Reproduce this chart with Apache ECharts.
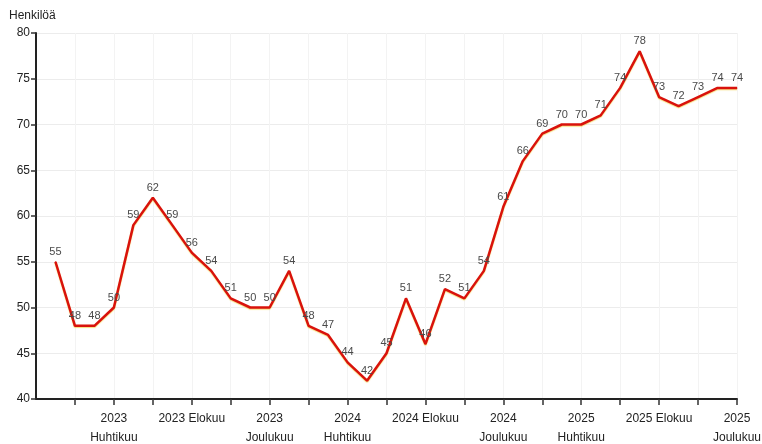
<!DOCTYPE html>
<html>
<head>
<meta charset="utf-8">
<script src="https://cdn.jsdelivr.net/npm/echarts@6/dist/echarts.min.js"></script>
<style>
  html, body { margin: 0; padding: 0; background: #fff; }
  #chart { width: 762px; height: 444px; }
</style>
</head>
<body>
<div id="chart"></div>
<script>
// kuukaudet 2023 tammikuu - 2025 joulukuu
const monthNames = ['Tammikuu', 'Helmikuu', 'Maaliskuu', 'Huhtikuu', 'Toukokuu', 'Kesäkuu',
  'Heinäkuu', 'Elokuu', 'Syyskuu', 'Lokakuu', 'Marraskuu', 'Joulukuu'];
const years = [2023, 2024, 2025];

// henkilöä per kuukausi
const values = [55, 48, 48, 50, 59, 62, 59, 56, 54, 51, 50, 50,
  54, 48, 47, 44, 42, 45, 51, 46, 52, 51, 54, 61,
  66, 69, 70, 70, 71, 74, 78, 73, 72, 73, 74, 74];

// näytettävät akselin tekstit
const tickLabels = {
  '2023 Huhtikuu': '2023\nHuhtikuu',
  '2023 Elokuu': '2023 Elokuu',
  '2023 Joulukuu': '2023\nJoulukuu',
  '2024 Huhtikuu': '2024\nHuhtikuu',
  '2024 Elokuu': '2024 Elokuu',
  '2024 Joulukuu': '2024\nJoulukuu',
  '2025 Huhtikuu': '2025\nHuhtikuu',
  '2025 Elokuu': '2025 Elokuu',
  '2025 Joulukuu': '2025\nJoulukuu'
};

// tyhjä kategoria alkuun, jotta ensimmäinen piste ei ole akselilla
const categories = [''];
years.forEach(y => monthNames.forEach(m => categories.push(y + ' ' + m)));
const seriesData = [null].concat(values);

const chart = echarts.init(document.getElementById('chart'));

const option = {
  animation: false,
  textStyle: { fontFamily: 'Liberation Sans, Arial, sans-serif' },
  grid: { left: 36, right: 25, top: 33, bottom: 45, outerBoundsMode: 'none', containLabel: false },
  title: {
    text: 'Henkilöä',
    left: 4, top: 5,
    textStyle: { fontSize: 12, fontWeight: 'normal', color: '#222' }
  },
  xAxis: {
    type: 'category',
    boundaryGap: false,
    data: categories,
    axisLine: { lineStyle: { color: '#222', width: 2 } },
    axisTick: {
      interval: (i) => i > 0 && i % 2 === 0,
      length: 6,
      lineStyle: { color: '#333', width: 1.5 }
    },
    axisLabel: {
      interval: (i, v) => tickLabels[v] !== undefined,
      formatter: (v) => tickLabels[v] || '',
      color: '#222',
      fontSize: 12,
      lineHeight: 19,
      margin: 10
    },
    splitLine: {
      show: true,
      interval: (i) => i > 0 && i % 2 === 0,
      lineStyle: { color: '#f3f3f3', width: 1 }
    }
  },
  yAxis: {
    type: 'value',
    min: 40, max: 80, interval: 5,
    axisLine: { show: true, lineStyle: { color: '#222', width: 2 } },
    axisTick: { show: true, length: 5, lineStyle: { color: '#333', width: 1.5 } },
    axisLabel: { color: '#222', fontSize: 12, margin: 6 },
    splitLine: { lineStyle: { color: '#ececec', width: 1 } }
  },
  series: [{
    type: 'line',
    data: seriesData,
    symbol: 'circle',
    symbolSize: 1,
    showSymbol: true,
    itemStyle: { color: '#d9120c' },
    connectNulls: false,
    lineStyle: {
      color: '#d9120c', width: 2.5,
      shadowColor: 'rgba(240, 200, 40, 0.6)', shadowBlur: 1, shadowOffsetY: 1
    },
    label: {
      show: true,
      position: 'top',
      distance: 4,
      color: '#4a4a4a',
      fontSize: 11
    }
  }]
};

chart.setOption(option);
</script>
</body>
</html>
